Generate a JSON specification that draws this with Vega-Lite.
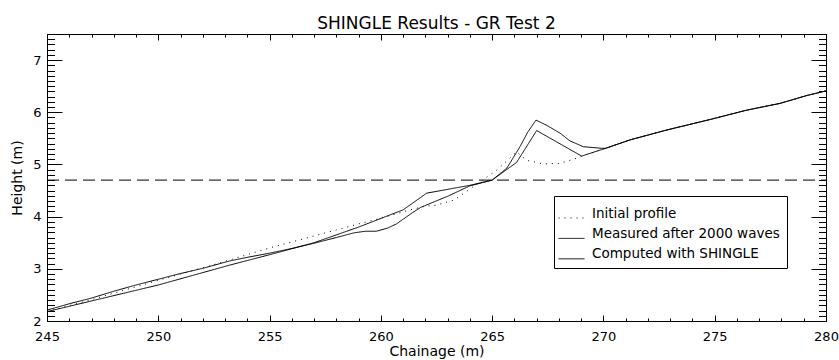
{
  "$schema": "https://vega.github.io/schema/vega-lite/v6.json",
  "width": 779,
  "height": 287,
  "autosize": "none",
  "padding": {"left": 47, "top": 34, "right": 13, "bottom": 39},
  "background": "white",
  "config": {
    "view": {"stroke": "black", "strokeWidth": 1},
    "font": "DejaVu Sans",
    "axis": {"domainColor": "black", "tickColor": "black", "labelColor": "black", "titleColor": "black", "grid": false, "labelOverlap": false, "labelFlush": false, "labelBound": false, "titleFontWeight": "normal"}
  },
  "title": {"text": "SHINGLE Results - GR Test 2", "fontSize": 17, "fontWeight": "normal", "color": "black", "anchor": "middle", "offset": -5},
  "layer": [
    {
      "data": {"values": [
      {"series": "Initial profile", "chainage": 245, "height": 2.18},
      {"series": "Initial profile", "chainage": 247, "height": 2.41},
      {"series": "Initial profile", "chainage": 250, "height": 2.78},
      {"series": "Initial profile", "chainage": 252.5, "height": 3.08},
      {"series": "Initial profile", "chainage": 255, "height": 3.4},
      {"series": "Initial profile", "chainage": 257, "height": 3.63},
      {"series": "Initial profile", "chainage": 259, "height": 3.86},
      {"series": "Initial profile", "chainage": 260, "height": 3.97},
      {"series": "Initial profile", "chainage": 261.3, "height": 4.13},
      {"series": "Initial profile", "chainage": 262, "height": 4.2},
      {"series": "Initial profile", "chainage": 262.5, "height": 4.22},
      {"series": "Initial profile", "chainage": 263.3, "height": 4.32},
      {"series": "Initial profile", "chainage": 264.2, "height": 4.59},
      {"series": "Initial profile", "chainage": 265.2, "height": 4.89},
      {"series": "Initial profile", "chainage": 266.1, "height": 5.24},
      {"series": "Initial profile", "chainage": 266.55, "height": 5.08},
      {"series": "Initial profile", "chainage": 267.3, "height": 5.01},
      {"series": "Initial profile", "chainage": 268.05, "height": 5.02},
      {"series": "Initial profile", "chainage": 268.8, "height": 5.12},
      {"series": "Initial profile", "chainage": 269.02, "height": 5.16},
      {"series": "Initial profile", "chainage": 270.1, "height": 5.31},
      {"series": "Initial profile", "chainage": 271.19, "height": 5.47},
      {"series": "Initial profile", "chainage": 272.84, "height": 5.66},
      {"series": "Initial profile", "chainage": 274.78, "height": 5.86},
      {"series": "Initial profile", "chainage": 276.43, "height": 6.04},
      {"series": "Initial profile", "chainage": 277.93, "height": 6.17},
      {"series": "Initial profile", "chainage": 279.13, "height": 6.32},
      {"series": "Initial profile", "chainage": 280, "height": 6.41},
      {"series": "Measured after 2000 waves", "chainage": 245, "height": 2.21},
      {"series": "Measured after 2000 waves", "chainage": 246, "height": 2.33},
      {"series": "Measured after 2000 waves", "chainage": 247, "height": 2.44},
      {"series": "Measured after 2000 waves", "chainage": 248, "height": 2.57},
      {"series": "Measured after 2000 waves", "chainage": 249, "height": 2.69},
      {"series": "Measured after 2000 waves", "chainage": 250, "height": 2.8},
      {"series": "Measured after 2000 waves", "chainage": 251, "height": 2.91},
      {"series": "Measured after 2000 waves", "chainage": 252, "height": 3.01},
      {"series": "Measured after 2000 waves", "chainage": 253.2, "height": 3.15},
      {"series": "Measured after 2000 waves", "chainage": 254, "height": 3.22},
      {"series": "Measured after 2000 waves", "chainage": 255, "height": 3.3},
      {"series": "Measured after 2000 waves", "chainage": 256, "height": 3.39},
      {"series": "Measured after 2000 waves", "chainage": 257, "height": 3.49},
      {"series": "Measured after 2000 waves", "chainage": 258, "height": 3.6},
      {"series": "Measured after 2000 waves", "chainage": 258.8, "height": 3.69},
      {"series": "Measured after 2000 waves", "chainage": 259.3, "height": 3.72},
      {"series": "Measured after 2000 waves", "chainage": 259.8, "height": 3.72},
      {"series": "Measured after 2000 waves", "chainage": 260.3, "height": 3.78},
      {"series": "Measured after 2000 waves", "chainage": 260.7, "height": 3.86},
      {"series": "Measured after 2000 waves", "chainage": 261, "height": 3.95},
      {"series": "Measured after 2000 waves", "chainage": 261.4, "height": 4.07},
      {"series": "Measured after 2000 waves", "chainage": 261.8, "height": 4.18},
      {"series": "Measured after 2000 waves", "chainage": 262.2, "height": 4.25},
      {"series": "Measured after 2000 waves", "chainage": 263, "height": 4.39},
      {"series": "Measured after 2000 waves", "chainage": 264, "height": 4.59},
      {"series": "Measured after 2000 waves", "chainage": 265, "height": 4.7},
      {"series": "Measured after 2000 waves", "chainage": 265.66, "height": 4.93},
      {"series": "Measured after 2000 waves", "chainage": 266.25, "height": 5.34},
      {"series": "Measured after 2000 waves", "chainage": 266.6, "height": 5.62},
      {"series": "Measured after 2000 waves", "chainage": 266.97, "height": 5.85},
      {"series": "Measured after 2000 waves", "chainage": 267.45, "height": 5.75},
      {"series": "Measured after 2000 waves", "chainage": 268.05, "height": 5.6},
      {"series": "Measured after 2000 waves", "chainage": 268.5, "height": 5.45},
      {"series": "Measured after 2000 waves", "chainage": 269.1, "height": 5.34},
      {"series": "Measured after 2000 waves", "chainage": 269.9, "height": 5.31},
      {"series": "Measured after 2000 waves", "chainage": 270.1, "height": 5.31},
      {"series": "Measured after 2000 waves", "chainage": 271.19, "height": 5.47},
      {"series": "Measured after 2000 waves", "chainage": 272.84, "height": 5.66},
      {"series": "Measured after 2000 waves", "chainage": 274.78, "height": 5.86},
      {"series": "Measured after 2000 waves", "chainage": 276.43, "height": 6.04},
      {"series": "Measured after 2000 waves", "chainage": 277.93, "height": 6.17},
      {"series": "Measured after 2000 waves", "chainage": 279.13, "height": 6.32},
      {"series": "Measured after 2000 waves", "chainage": 280, "height": 6.41},
      {"series": "Computed with SHINGLE", "chainage": 245, "height": 2.18},
      {"series": "Computed with SHINGLE", "chainage": 250, "height": 2.69},
      {"series": "Computed with SHINGLE", "chainage": 253.2, "height": 3.07},
      {"series": "Computed with SHINGLE", "chainage": 255, "height": 3.27},
      {"series": "Computed with SHINGLE", "chainage": 257, "height": 3.5},
      {"series": "Computed with SHINGLE", "chainage": 259, "height": 3.8},
      {"series": "Computed with SHINGLE", "chainage": 261, "height": 4.13},
      {"series": "Computed with SHINGLE", "chainage": 262.06, "height": 4.45},
      {"series": "Computed with SHINGLE", "chainage": 264, "height": 4.6},
      {"series": "Computed with SHINGLE", "chainage": 265, "height": 4.7},
      {"series": "Computed with SHINGLE", "chainage": 266.1, "height": 5.04},
      {"series": "Computed with SHINGLE", "chainage": 267, "height": 5.65},
      {"series": "Computed with SHINGLE", "chainage": 269.02, "height": 5.16},
      {"series": "Computed with SHINGLE", "chainage": 270.1, "height": 5.31},
      {"series": "Computed with SHINGLE", "chainage": 271.19, "height": 5.47},
      {"series": "Computed with SHINGLE", "chainage": 272.84, "height": 5.66},
      {"series": "Computed with SHINGLE", "chainage": 274.78, "height": 5.86},
      {"series": "Computed with SHINGLE", "chainage": 276.43, "height": 6.04},
      {"series": "Computed with SHINGLE", "chainage": 277.93, "height": 6.17},
      {"series": "Computed with SHINGLE", "chainage": 279.13, "height": 6.32},
      {"series": "Computed with SHINGLE", "chainage": 280, "height": 6.41}
      ]},
      "mark": {"type": "line", "color": "black", "strokeWidth": 1},
      "encoding": {
        "x": {
          "field": "chainage", "type": "quantitative",
          "scale": {"domain": [245, 280], "nice": false, "zero": false},
          "axis": {
            "orient": "bottom", "title": "Chainage (m)", "titleFontSize": 14, "titlePadding": -2,
            "values": [245,246,247,248,249,250,251,252,253,254,255,256,257,258,259,260,261,262,263,264,265,266,267,268,269,270,271,272,273,274,275,276,277,278,279,280],
            "labelExpr": "datum.value % 5 === 0 ? format(datum.value, 'd') : ''",
            "labelFontSize": 13, "labelPadding": 15,
            "tickSize": {"condition": {"test": "datum.value % 5 === 0", "value": -6}, "value": -3}
          }
        },
        "y": {
          "field": "height", "type": "quantitative",
          "scale": {"domain": [2, 7.5], "nice": false, "zero": false},
          "axis": {
            "orient": "left", "title": "Height (m)", "titleFontSize": 14, "titlePadding": 8,
            "values": [2,2.1,2.2,2.3,2.4,2.5,2.6,2.7,2.8,2.9,3,3.1,3.2,3.3,3.4,3.5,3.6,3.7,3.8,3.9,4,4.1,4.2,4.3,4.4,4.5,4.6,4.7,4.8,4.9,5,5.1,5.2,5.3,5.4,5.5,5.6,5.7,5.8,5.9,6,6.1,6.2,6.3,6.4,6.5,6.6,6.7,6.8,6.9,7,7.1,7.2,7.3,7.4,7.5],
            "labelExpr": "abs(datum.value - round(datum.value)) < 0.001 ? format(datum.value, 'd') : ''",
            "labelFontSize": 13, "labelPadding": 21,
            "tickSize": {"condition": {"test": "abs(datum.value - round(datum.value)) < 0.001", "value": -15}, "value": -7.5}
          }
        },
        "strokeDash": {
          "field": "series", "type": "nominal",
          "scale": {"domain": ["Initial profile", "Measured after 2000 waves", "Computed with SHINGLE"], "range": [[1, 5], [1, 0], [1, 0]]},
          "legend": {
            "orient": "none", "legendX": 507, "legendY": 162, "title": null,
            "strokeColor": "black", "fillColor": "white", "padding": 7, "cornerRadius": 0,
            "symbolType": "M-1.3,0.45H1.3", "symbolSize": 400, "symbolStrokeColor": "black", "symbolStrokeWidth": 1, "symbolFillColor": "transparent",
            "labelFontSize": 13.5, "labelColor": "black", "labelOffset": 10, "rowPadding": 3.4, "labelLimit": 0
          }
        }
      }
    },
    {
      "data": {"values": [{"level": "still water"}]},
      "mark": {"type": "rule", "color": "black", "strokeWidth": 1, "strokeDash": [12, 6]},
      "encoding": {
        "x": {
          "datum": 245, "type": "quantitative",
          "axis": {
            "orient": "top", "title": null, "labels": false,
            "values": [245,246,247,248,249,250,251,252,253,254,255,256,257,258,259,260,261,262,263,264,265,266,267,268,269,270,271,272,273,274,275,276,277,278,279,280],
            "tickSize": {"condition": {"test": "datum.value % 5 === 0", "value": -6}, "value": -3}
          }
        },
        "x2": {"datum": 280},
        "y": {
          "datum": 4.7, "type": "quantitative",
          "axis": {
            "orient": "right", "title": null, "labels": false,
            "values": [2,2.1,2.2,2.3,2.4,2.5,2.6,2.7,2.8,2.9,3,3.1,3.2,3.3,3.4,3.5,3.6,3.7,3.8,3.9,4,4.1,4.2,4.3,4.4,4.5,4.6,4.7,4.8,4.9,5,5.1,5.2,5.3,5.4,5.5,5.6,5.7,5.8,5.9,6,6.1,6.2,6.3,6.4,6.5,6.6,6.7,6.8,6.9,7,7.1,7.2,7.3,7.4,7.5],
            "tickSize": {"condition": {"test": "abs(datum.value - round(datum.value)) < 0.001", "value": -15}, "value": -7.5}
          }
        }
      }
    }
  ],
  "resolve": {"axis": {"x": "independent", "y": "independent"}}
}
